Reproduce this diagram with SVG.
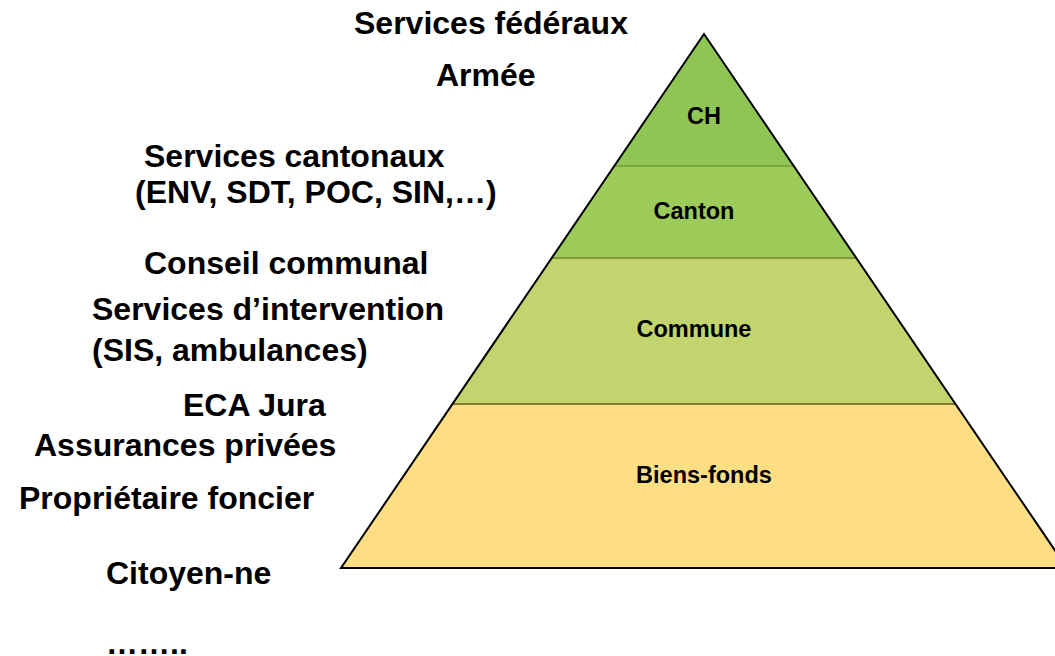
<svg xmlns="http://www.w3.org/2000/svg" width="1055" height="656" viewBox="0 0 1055 656">
<style>
.lbl{font-family:"Liberation Sans",Arial,sans-serif;font-weight:bold;font-size:32px;fill:#000}
.in{font-family:"Liberation Sans",Arial,sans-serif;font-weight:bold;font-size:23.5px;fill:#000;text-anchor:middle}
.sep{stroke-width:2;fill:none}
</style>
<rect width="1055" height="656" fill="#fff"/>
<g id="band-ch">
<polygon points="704,34 614.3,166 793.7,166" fill="#8fc653"/>
<text class="in" x="704" y="124">CH</text>
</g>
<g id="band-canton">
<polygon points="614.3,166 793.7,166 856.3,258 551.7,258" fill="#9dcb5a"/>
<text class="in" x="694" y="219">Canton</text>
</g>
<g id="band-commune">
<polygon points="551.7,258 856.3,258 955.5,404 452.5,404" fill="#c2d46e"/>
<text class="in" x="694" y="337">Commune</text>
</g>
<g id="band-biens">
<polygon points="452.5,404 955.5,404 1067,568 341,568" fill="#fede83"/>
<text class="in" x="704" y="483">Biens-fonds</text>
</g>
<g id="separators">
<line class="sep" x1="614.3" y1="166" x2="793.7" y2="166" stroke="#79a844"/>
<line class="sep" x1="551.7" y1="258" x2="856.3" y2="258" stroke="#7f9a3c"/>
<line class="sep" x1="452.5" y1="404" x2="955.5" y2="404" stroke="#8a7a2e"/>
</g>
<g id="outline">
<polygon points="704,34 1067,568 341,568" fill="none" stroke="#000" stroke-width="2" stroke-linejoin="miter"/>
</g>
<g id="labels">
<text class="lbl" x="354" y="34">Services fédéraux</text>
<text class="lbl" x="436" y="86">Armée</text>
<text class="lbl" x="144" y="167">Services cantonaux</text>
<text class="lbl" x="135" y="203">(ENV, SDT, POC, SIN,…)</text>
<text class="lbl" x="144" y="274">Conseil communal</text>
<text class="lbl" x="92" y="320">Services d’intervention</text>
<text class="lbl" x="92" y="361">(SIS, ambulances)</text>
<text class="lbl" x="183" y="416">ECA Jura</text>
<text class="lbl" x="34" y="456">Assurances privées</text>
<text class="lbl" x="19" y="509">Propriétaire foncier</text>
<text class="lbl" x="106" y="584">Citoyen-ne</text>
<text class="lbl" x="106" y="654">……..</text>
</g>
</svg>
